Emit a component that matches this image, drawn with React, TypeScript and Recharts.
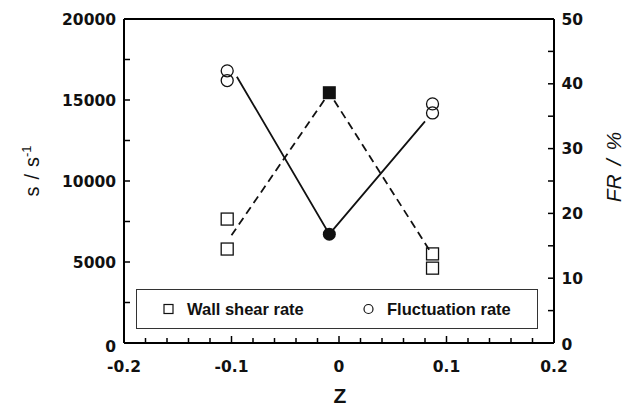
import React from "react";
import { ComposedChart, Scatter, XAxis, YAxis, ReferenceLine, Legend } from "recharts";

// measured points (z, wall shear rate s / s^-1)
const shearOpen = [
  { z: -0.104, s: 7650 },
  { z: -0.104, s: 5800 },
  { z: 0.087, s: 5500 },
  { z: 0.087, s: 4620 },
];
const shearFilled = [{ z: -0.009, s: 15450 }];
// dashed connecting line
const shearLine = [
  { z: -0.1, s: 6650 },
  { z: -0.009, s: 15450 },
  { z: 0.084, s: 5740 },
];

// fluctuation rate FR / %
const frOpen = [
  { z: -0.104, fr: 42.0 },
  { z: -0.104, fr: 40.5 },
  { z: 0.087, fr: 36.9 },
  { z: 0.087, fr: 35.5 },
];
const frFilled = [{ z: -0.009, fr: 16.8 }];
// solid connecting line
const frLine = [
  { z: -0.095, fr: 41.1 },
  { z: -0.009, fr: 16.8 },
  { z: 0.08, fr: 34.2 },
];

const xTicks = [-0.2, -0.18, -0.16, -0.14, -0.12, -0.1, -0.08, -0.06, -0.04, -0.02, 0, 0.02, 0.04, 0.06, 0.08, 0.1, 0.12, 0.14, 0.16, 0.18, 0.2];
const xLabels = [-0.2, -0.1, 0, 0.1, 0.2];
const leftTicks = [0, 2500, 5000, 7500, 10000, 12500, 15000, 17500, 20000];
const leftLabels = [0, 5000, 10000, 15000, 20000];
const rightTicks = [0, 5, 10, 15, 20, 25, 30, 35, 40, 45, 50];
const rightLabels = [0, 10, 20, 30, 40, 50];

const tickFont = { fontFamily: "DejaVu Sans, sans-serif", fontWeight: 700, fontSize: 15.5, fill: "#111" };
const near = (list: number[], v: number) => list.some((m) => Math.abs(m - v) < 1e-6);

const XTick = ({ x, y, payload }: any) => {
  const major = near(xLabels, payload.value);
  return (
    <g>
      <line x1={x} x2={x} y1={y} y2={y - (major ? 7 : 5)} stroke="#000" strokeWidth={1.5} />
      {major && (
        <text x={x} y={y + 28.7} textAnchor="middle" {...tickFont}>
          {payload.value}
        </text>
      )}
    </g>
  );
};

const LeftTick = ({ x, y, payload }: any) => {
  const major = near(leftLabels, payload.value);
  return (
    <g>
      <line x1={x} x2={x + 6} y1={y} y2={y} stroke="#000" strokeWidth={1.5} />
      {major && (
        <text x={x - 8} y={y + 5.6 + (payload.value === 0 ? 3 : 0)} textAnchor="end" {...tickFont}>
          {payload.value}
        </text>
      )}
    </g>
  );
};

const RightTick = ({ x, y, payload }: any) => {
  const major = near(rightLabels, payload.value);
  return (
    <g>
      <line x1={x} x2={x - 6} y1={y} y2={y} stroke="#000" strokeWidth={1.5} />
      {major && (
        <text x={x + 7.5} y={y + 5.6 + (payload.value === 0 ? 1 : 0)} textAnchor="start" {...tickFont}>
          {payload.value}
        </text>
      )}
    </g>
  );
};

const OpenSquare = ({ cx, cy }: any) => (
  <rect x={cx - 6} y={cy - 6} width={12} height={12} fill="none" stroke="#111" strokeWidth={1.3} />
);
const FilledSquare = ({ cx, cy }: any) => <rect x={cx - 6.5} y={cy - 6.5} width={13} height={13} fill="#111" />;
const OpenCircle = ({ cx, cy }: any) => <circle cx={cx} cy={cy} r={6} fill="none" stroke="#111" strokeWidth={1.3} />;
const FilledCircle = ({ cx, cy }: any) => <circle cx={cx} cy={cy} r={6.5} fill="#111" />;
const NoDot = () => <g />;

const legendText: React.CSSProperties = {
  position: "absolute",
  top: 9,
  fontFamily: "Liberation Sans, Arial, sans-serif",
  fontWeight: 700,
  fontSize: 16.5,
  color: "#111",
  lineHeight: "20px",
  whiteSpace: "nowrap",
};

const LegendBox = () => (
  <div
    style={{
      position: "relative",
      width: 402,
      height: 40,
      boxSizing: "border-box",
      border: "1.3px solid #333",
      background: "#fff",
    }}
  >
    <svg width={402} height={40} style={{ position: "absolute", left: 0, top: 0 }}>
      <rect x={27} y={14.5} width={9} height={9} fill="none" stroke="#111" strokeWidth={1.2} />
      <circle cx={231.5} cy={19} r={4.5} fill="none" stroke="#111" strokeWidth={1.2} />
    </svg>
    <span style={{ ...legendText, left: 50 }}>Wall shear rate</span>
    <span style={{ ...legendText, left: 250 }}>Fluctuation rate</span>
  </div>
);

export default function App() {
  return (
    <div style={{ position: "absolute", left: 0, top: 0, width: 630, height: 409, background: "#fff" }}>
      <ComposedChart width={630} height={409} margin={{ top: 19, right: 0, bottom: 0, left: 0 }}>
        <XAxis
          type="number"
          dataKey="z"
          domain={[-0.2, 0.2]}
          ticks={xTicks}
          interval={0}
          height={66}
          tickSize={0}
          tickMargin={0}
          tickLine={false}
          tick={(p: any) => <XTick {...p} />}
          axisLine={{ stroke: "#000", strokeWidth: 2 }}
        />
        <YAxis
          yAxisId="left"
          type="number"
          domain={[0, 20000]}
          ticks={leftTicks}
          interval={0}
          width={124}
          tickSize={0}
          tickMargin={0}
          tickLine={false}
          tick={(p: any) => <LeftTick {...p} />}
          axisLine={{ stroke: "#000", strokeWidth: 2 }}
        />
        <YAxis
          yAxisId="right"
          orientation="right"
          type="number"
          domain={[0, 50]}
          ticks={rightTicks}
          interval={0}
          width={76}
          tickSize={0}
          tickMargin={0}
          tickLine={false}
          tick={(p: any) => <RightTick {...p} />}
          axisLine={{ stroke: "#000", strokeWidth: 2 }}
        />
        <ReferenceLine yAxisId="left" y={20000} stroke="#000" strokeWidth={2} />

        <Scatter
          yAxisId="left"
          data={shearLine}
          dataKey="s"
          line={{ stroke: "#111", strokeWidth: 1.8, strokeDasharray: "8 5" }}
          shape={NoDot}
          isAnimationActive={false}
        />
        <Scatter
          yAxisId="right"
          data={frLine}
          dataKey="fr"
          line={{ stroke: "#111", strokeWidth: 1.8 }}
          shape={NoDot}
          isAnimationActive={false}
        />
        <Scatter yAxisId="left" data={shearOpen} dataKey="s" shape={OpenSquare} isAnimationActive={false} />
        <Scatter yAxisId="left" data={shearFilled} dataKey="s" shape={FilledSquare} isAnimationActive={false} />
        <Scatter yAxisId="right" data={frOpen} dataKey="fr" shape={OpenCircle} isAnimationActive={false} />
        <Scatter yAxisId="right" data={frFilled} dataKey="fr" shape={FilledCircle} isAnimationActive={false} />

        <Legend
          layout="horizontal"
          verticalAlign="middle"
          align="center"
          wrapperStyle={{ left: 136, top: 289, width: 402, height: 40 }}
          content={() => <LegendBox />}
        />

        {/* axis titles */}
        <text
          x={39}
          y={171}
          transform="rotate(-90, 39, 171)"
          textAnchor="middle"
          fontFamily="Liberation Sans, Arial, sans-serif"
          fontSize={20}
          fill="#111"
        >
          s<tspan dx={7}>/</tspan>
          <tspan dx={7}>s</tspan>
          <tspan dy={-8} fontSize={13}>-1</tspan>
        </text>
        <text
          x={621}
          y={167}
          transform="rotate(-90, 621, 167)"
          textAnchor="middle"
          fontFamily="Liberation Sans, Arial, sans-serif"
          fontStyle="italic"
          fontSize={21}
          fill="#111"
        >
          FR<tspan dx={9}>/</tspan>
          <tspan dx={9}>%</tspan>
        </text>
        <text
          x={340}
          y={403}
          textAnchor="middle"
          fontFamily="Liberation Sans, Arial, sans-serif"
          fontWeight={700}
          fontSize={21}
          fill="#111"
        >
          Z
        </text>
      </ComposedChart>
    </div>
  );
}
